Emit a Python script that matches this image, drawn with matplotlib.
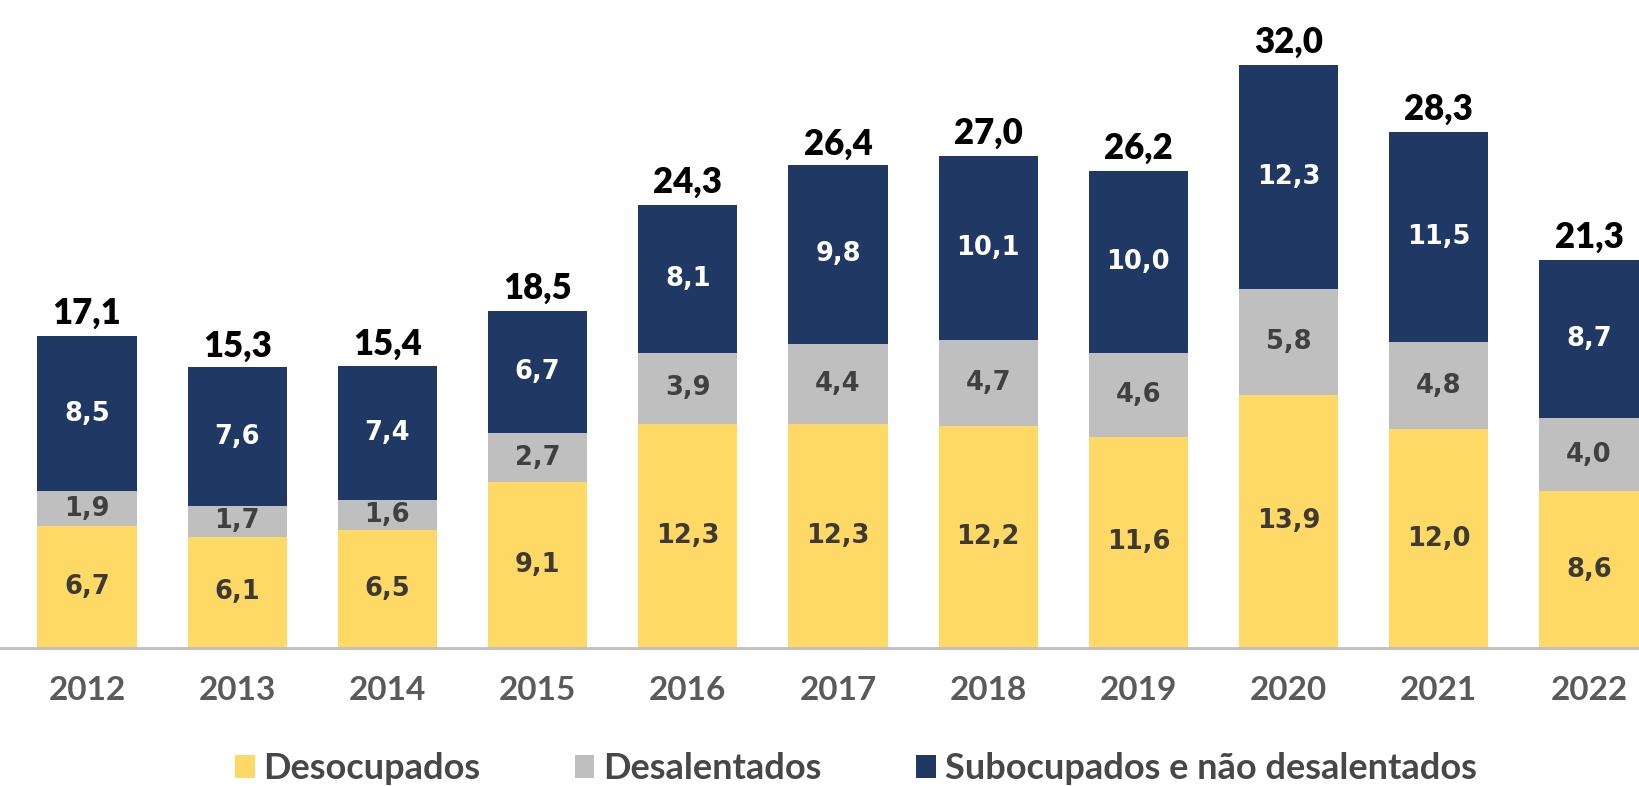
import matplotlib
matplotlib.use("Agg")
import matplotlib.pyplot as plt
import numpy as np

years = ["2012", "2013", "2014", "2015", "2016", "2017", "2018", "2019", "2020", "2021", "2022"]
desocupados = [6.7, 6.1, 6.5, 9.1, 12.3, 12.3, 12.2, 11.6, 13.9, 12.0, 8.6]
desalentados = [1.9, 1.7, 1.6, 2.7, 3.9, 4.4, 4.7, 4.6, 5.8, 4.8, 4.0]
subocupados = [8.5, 7.6, 7.4, 6.7, 8.1, 9.8, 10.1, 10.0, 12.3, 11.5, 8.7]
totais = [17.1, 15.3, 15.4, 18.5, 24.3, 26.4, 27.0, 26.2, 32.0, 28.3, 21.3]
series_names = ["Desocupados", "Desalentados", "Subocupados e não desalentados"]

c_yel = "#FFD966"
c_gry = "#BFBFBF"
c_nav = "#1F3864"

plt.rcParams['font.family'] = ['Lato', 'DejaVu Sans']

fig = plt.figure(figsize=(16.39, 7.86), dpi=100)
ax = fig.add_axes([0, 0.1756, 1, 0.8244])
x = np.arange(len(years))
w = 0.66

d = np.array(desocupados)
g = np.array(desalentados)
s = np.array(subocupados)

b1 = ax.bar(x, d, w, color=c_yel, label=series_names[0])
b2 = ax.bar(x, g, w, bottom=d, color=c_gry, label=series_names[1])
b3 = ax.bar(x, s, w, bottom=d + g, color=c_nav, label=series_names[2])

def fmt(v):
    return f"{v:.1f}".replace(".", ",")

inner = dict(ha="center", va="center", fontsize=18.5, fontweight="bold",
             family=["DejaVu Sans"])
for i in range(len(years)):
    ax.text(x[i], d[i] / 2, fmt(d[i]), color="#3D3A33", **inner)
    ax.text(x[i], d[i] + g[i] / 2, fmt(g[i]), color="#404040", **inner)
    ax.text(x[i], d[i] + g[i] + s[i] / 2, fmt(s[i]), color="white", **inner)
    ax.text(x[i], totais[i] + 1.25, fmt(totais[i]), ha="center", va="center",
            fontsize=25, fontweight="heavy", color="black")

ax.set_xlim(-0.579, 10.333)
ax.set_ylim(0, 35.57)
ax.set_yticks([])
ax.set_xticks(x)
ax.set_xticklabels(years, fontsize=24, color="#5A5A5A", fontweight="bold")
ax.tick_params(axis="x", length=0, pad=20)
for sp in ["top", "right", "left"]:
    ax.spines[sp].set_visible(False)
ax.spines["bottom"].set_color("#BFBFBF")
ax.spines["bottom"].set_linewidth(2)

leg = fig.legend(handles=[b1, b2, b3], labels=series_names, loc="center",
                 bbox_to_anchor=(0.522, 0.022), ncol=3, frameon=False,
                 prop={"size": 26, "weight": "bold"},
                 handlelength=0.55, handleheight=0.6,
                 handletextpad=0.25, columnspacing=2.6, borderpad=0.1)
for t in leg.get_texts():
    t.set_color("#474747")

fig.savefig("out.png", dpi=100)
